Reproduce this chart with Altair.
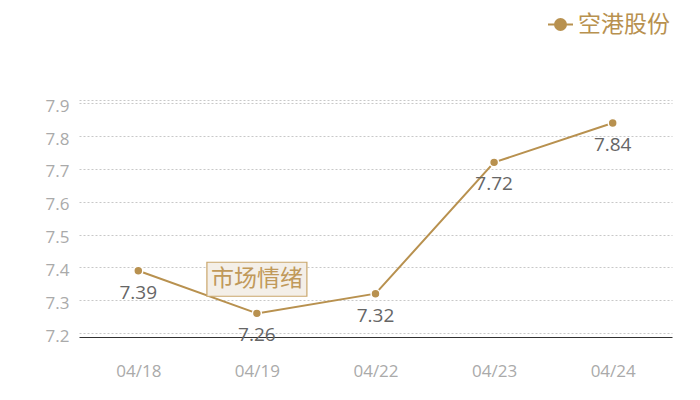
import altair as alt
import pandas as pd

dates = ["04/18", "04/19", "04/22", "04/23", "04/24"]
prices = [7.39, 7.26, 7.32, 7.72, 7.84]
series_name = "空港股份"
y_ticks = [7.2, 7.3, 7.4, 7.5, 7.6, 7.7, 7.8, 7.9, 7.91]
note_text = ["市场情绪"]
note_date = ["04/19"]
note_value = [7.364]

GOLD = "#b8914f"
FONT = "Open Sans, Noto Sans CJK SC"

df = pd.DataFrame({"date": dates, "price": prices, "series": [series_name] * len(dates),
                   "label": [f"{p:.2f}" for p in prices]})
note = pd.DataFrame({"date": note_date, "price": note_value, "text": note_text})

xenc = alt.X("date:O", sort=dates, scale=alt.Scale(padding=0.5),
             axis=alt.Axis(title=None, labelAngle=0, ticks=False, domain=True,
                           domainColor="#333", domainWidth=1.2, labelColor="#aaa",
                           labelFontSize=17, labelPadding=26, labelFont=FONT, grid=False))
yenc = alt.Y("price:Q", scale=alt.Scale(domain=[7.188, 7.91], nice=False, zero=False),
             axis=alt.Axis(title=None, values=y_ticks, ticks=False, domain=False,
                           labelColor="#aaa", labelFontSize=17, labelPadding=10, labelFont=FONT,
                           labelOffset=3,
                           labelExpr="datum.value > 7.905 ? '' : format(datum.value, '.1f')",
                           grid=True, gridColor="#c8c8c8", gridDash=[2, 2], gridWidth=1))

legend_path = ("M-1,0 L-0.44,0 M0.44,0 L1,0 "
               "M-0.44,0 A0.44,0.44 0 1,0 0.44,0 A0.44,0.44 0 1,0 -0.44,0 Z")

base = alt.Chart(df)
line = base.mark_line(strokeWidth=2).encode(
    x=xenc, y=yenc,
    color=alt.Color("series:N", scale=alt.Scale(range=[GOLD]),
                    legend=alt.Legend(title=None, orient="none", legendX=468, legendY=-89,
                                      symbolType=legend_path, symbolSize=625,
                                      symbolStrokeWidth=2, symbolFillColor=GOLD,
                                      symbolStrokeColor=GOLD, labelFontSize=23,
                                      labelColor=GOLD, labelFont=FONT, labelOffset=4,
                                      labelLimit=300)),
)
points = base.mark_point(filled=True, size=80, color=GOLD, stroke="white",
                         strokeWidth=1.5, opacity=1).encode(x=xenc, y=yenc)
labels = base.mark_text(dy=22, fontSize=19, color="#666", font=FONT).encode(
    x=xenc, y=yenc, text="label:N")

box = alt.Chart(note).mark_point(
    shape="M-1,-0.34 L1,-0.34 L1,0.34 L-1,0.34 Z", size=10000, filled=True,
    fill="#f4efe8", stroke="#c9a66b", strokeWidth=1.2, opacity=1).encode(x=xenc, y=yenc)
note_txt = alt.Chart(note).mark_text(fontSize=23, color="#c0995a", font=FONT).encode(
    x=xenc, y=yenc, text="text:N")

chart = alt.layer(line, points, labels, box, note_txt).properties(
    width=593, height=237,
    background="white",
    autosize=alt.AutoSizeParams(type="none"),
    padding={"left": 71, "top": 92, "right": 20, "bottom": 50},
).configure_view(stroke=None)

chart.save("out.html", embed_options={"renderer": "svg", "actions": False})
